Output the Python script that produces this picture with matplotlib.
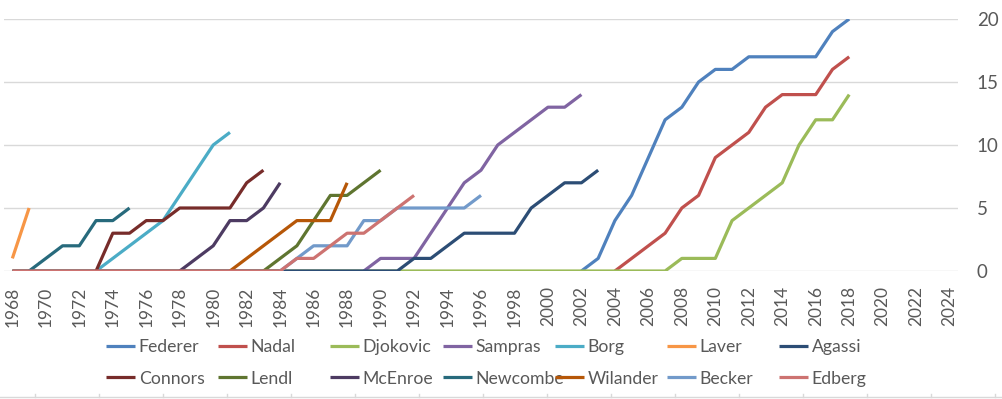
import matplotlib
matplotlib.use("Agg")
import matplotlib.pyplot as plt
from matplotlib.lines import Line2D

plt.rcParams['font.family'] = ['Lato', 'DejaVu Sans']

# ---- data: cumulative Grand Slam titles per year ----
players = ["Federer", "Nadal", "Djokovic", "Sampras", "Borg", "Laver", "Agassi",
           "Connors", "Lendl", "McEnroe", "Newcombe", "Wilander", "Becker", "Edberg"]

federer_start = 2002
federer = [0, 1, 4, 6, 9, 12, 13, 15, 16, 16, 17, 17, 17, 17, 17, 19, 20]
nadal_start = 2004
nadal = [0, 1, 2, 3, 5, 6, 9, 10, 11, 13, 14, 14, 14, 16, 17]
djokovic_start = 1968
djokovic = [0] * 40 + [1, 1, 1, 4, 5, 6, 7, 10, 12, 12, 14]
sampras_start = 1989
sampras = [0, 1, 1, 1, 3, 5, 7, 8, 10, 11, 12, 13, 13, 14]
borg_start = 1973
borg = [0, 1, 2, 3, 4, 6, 8, 10, 11]
laver_start = 1968
laver = [1, 5]
agassi_start = 1968
agassi = [0] * 24 + [1, 1, 2, 3, 3, 3, 3, 5, 6, 7, 7, 8]
connors_start = 1973
connors = [0, 3, 3, 4, 4, 5, 5, 5, 5, 7, 8]
lendl_start = 1983
lendl = [0, 1, 2, 4, 6, 6, 7, 8]
mcenroe_start = 1978
mcenroe = [0, 1, 2, 4, 4, 5, 7]
newcombe_start = 1969
newcombe = [0, 1, 2, 2, 4, 4, 5]
wilander_start = 1981
wilander = [0, 1, 2, 3, 4, 4, 4, 7]
becker_start = 1984
becker = [0, 1, 2, 2, 2, 4, 4, 5, 5, 5, 5, 5, 6]
edberg_start = 1968
edberg = [0] * 17 + [1, 1, 2, 3, 3, 4, 5, 6]

series = [
    (federer_start, federer), (nadal_start, nadal), (djokovic_start, djokovic),
    (sampras_start, sampras), (borg_start, borg), (laver_start, laver),
    (agassi_start, agassi), (connors_start, connors), (lendl_start, lendl),
    (mcenroe_start, mcenroe), (newcombe_start, newcombe), (wilander_start, wilander),
    (becker_start, becker), (edberg_start, edberg),
]

colors = ["#4F81BD", "#C0504D", "#9BBB59", "#8064A2", "#4BACC6", "#F79646", "#2C4D75",
          "#772C2A", "#5F7530", "#4D3B62", "#276A7C", "#B65708", "#729ACA", "#CD7371"]

xtick_years = list(range(1968, 2025, 2))
yticks = [0, 5, 10, 15, 20]

# ---- figure ----
W, H = 1002, 399
fig = plt.figure(figsize=(W / 100, H / 100), dpi=100)
ax = fig.add_axes([4 / W, 1 - 271 / H, (958 - 4) / W, (271 - 19) / H])

text_color = "#595959"
grid_color = "#D9D9D9"

lines = []
for (start, vals), name, col in zip(series, players, colors):
    yrs = list(range(start, start + len(vals)))
    ln, = ax.plot(yrs, vals, color=col, lw=2.3, label=name,
                  solid_joinstyle='round', solid_capstyle='butt', zorder=3)
    lines.append(ln)

ax.set_xlim(1967.5, 2024.5)
ax.set_ylim(0, 20)
ax.set_xticks(xtick_years)
ax.set_xticklabels([str(y) for y in xtick_years], rotation=90, fontsize=12.5,
                   color=text_color)
ax.set_yticks(yticks)
ax.set_yticklabels([str(v) for v in yticks], fontsize=13.5, color=text_color)
ax.yaxis.tick_right()
ax.tick_params(axis='x', length=0, pad=11)
ax.tick_params(axis='y', length=0, pad=13.5)
ax.grid(axis='y', color=grid_color, lw=1.0, zorder=0)
ax.set_axisbelow(True)
for sp in ax.spines.values():
    sp.set_visible(False)

# ---- legend: 7 equal columns, 2 rows ----
col_x = [106, 218, 330, 443, 555, 667, 779]
for c in range(7):
    hs = [lines[c], lines[c + 7]]
    leg = fig.legend(handles=hs, labels=[players[c], players[c + 7]],
                     loc='upper left', bbox_to_anchor=(col_x[c] / W, 1 - 339 / H),
                     frameon=False, fontsize=12.7, handlelength=1.65,
                     handletextpad=0.2, labelspacing=0.88, borderpad=0,
                     borderaxespad=0, labelcolor=text_color)
    for h in leg.legend_handles:
        h.set_linewidth(2.3)

# ---- faint sheet grid strip at bottom ----
yb = 1 - 397 / H
fig.add_artist(Line2D([0, 1], [yb, yb], color=grid_color, lw=1.0,
                      transform=fig.transFigure))
for px in range(35, W, 64):
    fig.add_artist(Line2D([px / W, px / W], [yb, yb + 3 / H], color=grid_color,
                          lw=1.0, transform=fig.transFigure))

fig.savefig("out.png", dpi=100, facecolor="white")
